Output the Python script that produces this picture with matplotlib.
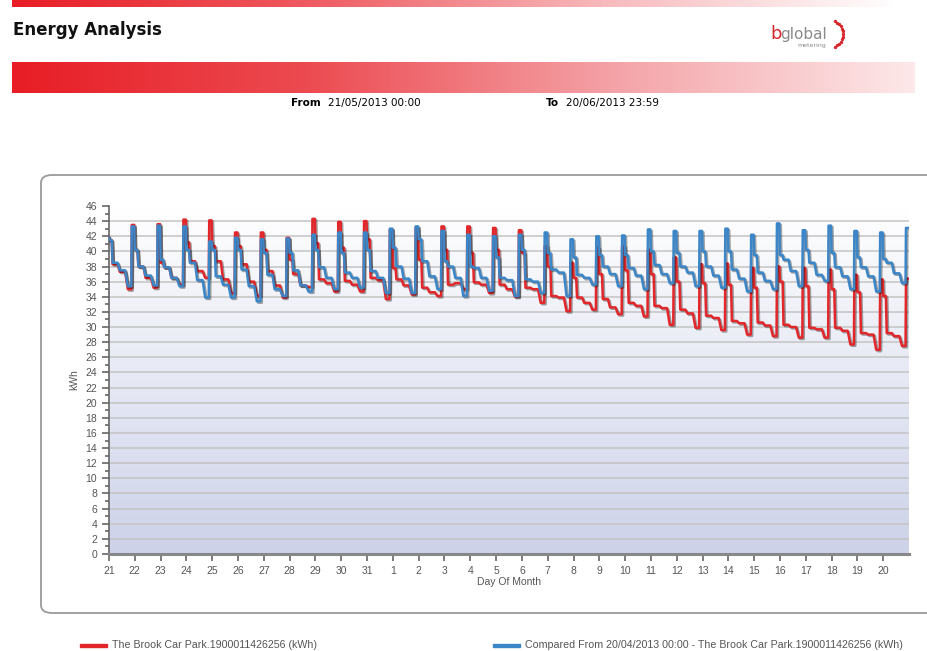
"""Energy analysis chart: half-hourly kWh, current period vs compared period."""

import matplotlib.pyplot as plt
import numpy as np
from matplotlib import patheffects
from matplotlib.colors import LinearSegmentedColormap
from matplotlib.patches import FancyBboxPatch, Rectangle

# ---- data -----------------------------------------------------------------
# one entry per evening cycle, starting with the cycle that began the day
# before 21/05 (index 0) and ending with the rise on 20/06 (last index)
day_labels = ['21', '22', '23', '24', '25', '26', '27', '28', '29', '30',
              '31', '1', '2', '3', '4', '5', '6', '7', '8', '9', '10', '11',
              '12', '13', '14', '15', '16', '17', '18', '19', '20']

red_peak = [42.0, 43.5, 43.6, 44.2, 44.1, 42.5, 42.5, 41.8, 44.3, 43.9,
            44.0, 42.9, 43.1, 43.3, 43.3, 43.1, 42.8, 40.7, 38.5, 40.5,
            40.7, 40.2, 39.2, 38.3, 38.4, 37.8, 38.0, 37.8, 37.6, 36.9,
            36.3, 36.4]
red_shoulder = [41.5, 40.2, 38.5, 41.2, 40.7, 40.7, 40.2, 38.9, 41.1, 40.5,
                41.6, 37.8, 38.9, 40.2, 39.8, 40.2, 39.8, 38.0, 36.5, 37.0,
                37.5, 37.0, 36.0, 35.8, 35.6, 35.2, 36.0, 35.4, 35.0, 34.6,
                34.1]
red_mid_a = [38.3, 38.0, 37.9, 38.7, 38.7, 38.3, 37.4, 37.0, 36.3, 36.1,
             36.5, 36.3, 35.2, 35.6, 35.9, 35.6, 35.2, 34.1, 33.9, 33.7,
             33.2, 32.8, 32.3, 31.5, 30.8, 30.6, 30.3, 29.9, 29.9, 29.2,
             29.2]
red_mid_b = [37.3, 36.5, 36.5, 37.4, 36.3, 36.0, 35.5, 35.5, 35.8, 35.6,
             36.2, 35.5, 34.6, 35.8, 35.6, 35.0, 35.0, 33.9, 33.2, 32.6,
             32.8, 32.5, 31.8, 31.2, 30.5, 30.2, 30.0, 29.7, 29.5, 29.0,
             28.8]
red_low = [35.0, 35.2, 35.6, 36.5, 34.5, 34.1, 33.9, 35.3, 34.7, 34.7,
           33.7, 34.3, 34.1, 35.0, 34.5, 34.0, 33.2, 32.1, 32.3, 31.7,
           31.4, 30.3, 29.9, 29.6, 29.0, 28.8, 28.6, 28.6, 27.7, 27.0,
           27.5]

blue_peak = [42.0, 43.3, 43.4, 43.3, 41.3, 41.8, 41.6, 41.7, 42.2, 42.5,
             42.5, 43.0, 43.3, 42.7, 42.2, 42.0, 42.2, 42.5, 41.6, 42.0,
             42.1, 42.9, 42.7, 42.7, 43.0, 42.2, 43.7, 42.8, 43.4, 42.7,
             42.5, 43.1]
blue_shoulder = [41.5, 40.2, 38.9, 40.2, 40.2, 40.2, 39.8, 39.8, 40.2, 39.8,
                 40.2, 40.5, 41.6, 38.7, 38.0, 39.2, 40.2, 39.8, 39.2, 39.5,
                 39.5, 40.0, 39.8, 40.0, 40.0, 39.5, 39.5, 40.2, 39.8, 39.2,
                 39.0]
blue_mid_a = [38.5, 38.0, 37.9, 38.5, 36.7, 37.6, 36.9, 37.5, 37.9, 37.2,
              37.4, 38.0, 38.7, 38.0, 37.8, 36.5, 36.3, 37.6, 36.9, 38.0,
              37.8, 38.2, 38.0, 38.0, 37.6, 37.2, 38.9, 38.5, 37.9, 37.9,
              38.5]
blue_mid_b = [37.5, 36.8, 36.5, 36.2, 35.6, 35.4, 35.0, 35.5, 36.5, 36.5,
              36.5, 36.4, 36.7, 36.5, 36.5, 36.2, 36.0, 37.2, 36.5, 37.0,
              36.8, 37.0, 37.2, 36.8, 36.4, 36.1, 37.4, 36.9, 36.7, 36.7,
              37.1]
blue_low = [35.4, 35.5, 35.4, 33.9, 33.9, 33.4, 34.1, 34.7, 35.0, 35.2,
            34.5, 34.5, 35.0, 34.1, 34.8, 34.1, 34.5, 34.1, 35.6, 35.4,
            35.0, 35.8, 35.4, 35.2, 34.7, 35.0, 35.4, 36.1, 35.0, 34.7,
            35.8]

# hour of day (relative to the evening of the rise) at which each phase
# of the daily profile starts and ends
peak_hours = (21.2, 23.5)
shoulder_hours = (24.0, 26.5)
mid_a_hours = (27.3, 32.0)
mid_b_hours = (34.0, 39.0)
low_hours = (17.5, 20.8)

RED = '#e2262a'
BLUE = '#3a86c8'
GREY_TEXT = '#555555'


def build_series(peak, shoulder, mid_a, mid_b, low):
    """Join the per-cycle readings into a time (days) / kWh series."""

    times, values = [], []
    for i, p in enumerate(peak):
        day = i - 1
        if i > 0:
            times += [day + h / 24 for h in low_hours]
            values += [low[i - 1]] * 2
        times += [day + h / 24 for h in peak_hours]
        values += [p, p]
        if i < len(shoulder):
            for hours, val in ((shoulder_hours, shoulder[i]),
                               (mid_a_hours, mid_a[i]),
                               (mid_b_hours, mid_b[i])):
                times += [day + h / 24 for h in hours]
                values += [val, val]
    return np.array(times), np.array(values)


fig = plt.figure(figsize=(9.27, 6.51), dpi=100)
W, H = 927, 651


def fx(px):
    return px / W


def fy(py):
    return 1 - py / H


# ---- header ----------------------------------------------------------------
band_cmap = LinearSegmentedColormap.from_list(
    'band', ['#e81d25', '#ee5a60', '#f7b9bc', '#ffffff'])
grad = np.linspace(0, 1, 256).reshape(1, -1)

top_ax = fig.add_axes([fx(12), fy(7), fx(900 - 12), 7 / H])
top_ax.imshow(grad, cmap=band_cmap, aspect='auto')
top_ax.axis('off')

band_ax = fig.add_axes([fx(12), fy(93), fx(915 - 12), 31 / H])
band_cmap2 = LinearSegmentedColormap.from_list(
    'band2', ['#e81d25', '#ec4c52', '#f4a3a7', '#fde8e9'])
band_ax.imshow(grad, cmap=band_cmap2, aspect='auto')
band_ax.axis('off')

fig.text(fx(13), fy(30), 'Energy Analysis', fontsize=12, fontweight='bold',
         color='#111111', va='center', family='DejaVu Sans')

# logo
fig.text(fx(770), fy(34), 'b', fontsize=13, color='#d8262c',
         va='center', family='DejaVu Sans')
fig.text(fx(780), fy(34), 'global', fontsize=11, color='#8a8a8a',
         va='center', family='DejaVu Sans')
fig.text(fx(797), fy(45), 'metering', fontsize=4.5, color='#8a8a8a',
         va='center', family='DejaVu Sans')
arc = np.linspace(-1.3, 1.3, 13)
fig.lines.append(plt.Line2D(fx(832 + 11 * np.cos(arc)),
                            fy(34 - 13 * np.sin(arc)),
                            transform=fig.transFigure, ls='none',
                            marker='o', ms=1.4, color='#d8262c'))

fig.text(fx(291), fy(103), 'From', fontsize=7.5, fontweight='bold',
         va='center', family='DejaVu Sans')
fig.text(fx(328), fy(103), '21/05/2013 00:00', fontsize=7.5,
         va='center', family='DejaVu Sans')
fig.text(fx(546), fy(103), 'To', fontsize=7.5, fontweight='bold',
         va='center', family='DejaVu Sans')
fig.text(fx(566), fy(103), '20/06/2013 23:59', fontsize=7.5,
         va='center', family='DejaVu Sans')

# ---- frame round the chart -------------------------------------------------
frame = FancyBboxPatch((fx(41), fy(613)), fx(960 - 41), (613 - 175) / H,
                       boxstyle='round,pad=0,rounding_size=0.012',
                       transform=fig.transFigure, facecolor='none',
                       edgecolor='#9a9a9a', linewidth=1.3, zorder=-1)
fig.patches.append(frame)

# ---- chart -----------------------------------------------------------------
ax = fig.add_axes([fx(109), fy(554), fx(909 - 109), (554 - 206) / H])

# plot area fades from lavender at the bottom to white at the top
bg_cmap = LinearSegmentedColormap.from_list('bg', ['#ffffff', '#cdd2e9'])
ax.imshow(np.linspace(1, 0, 256).reshape(-1, 1), cmap=bg_cmap,
          aspect='auto', extent=(0, 31, 0, 46), origin='lower', zorder=0)
ax.set_xlim(0, 31)
ax.set_ylim(0, 46)

for yv in range(2, 45, 2):
    ax.axhline(yv, color='#c4c4c4', lw=1.1, zorder=1)

shadow = [patheffects.SimpleLineShadow(offset=(1, -1), alpha=0.35),
          patheffects.Normal()]

t_red, v_red = build_series(red_peak, red_shoulder, red_mid_a, red_mid_b,
                            red_low)
t_blue, v_blue = build_series(blue_peak, blue_shoulder, blue_mid_a,
                              blue_mid_b, blue_low)
ax.plot(t_red, v_red, color=RED, lw=1.8, zorder=3, path_effects=shadow,
        solid_joinstyle='round')
ax.plot(t_blue, v_blue, color=BLUE, lw=1.8, zorder=4, path_effects=shadow,
        solid_joinstyle='round')

for side in ('top', 'right'):
    ax.spines[side].set_visible(False)
ax.spines['left'].set_color('#666666')
ax.spines['left'].set_linewidth(1.2)
ax.spines['bottom'].set_color('#888888')
ax.spines['bottom'].set_linewidth(2.2)

ax.set_yticks(range(0, 47, 2))
ax.set_yticks(range(1, 46, 2), minor=True)
ax.set_xticks(range(len(day_labels)))
ax.set_xticklabels(day_labels)
ax.tick_params(axis='both', which='both', colors='#666666', labelsize=7,
               labelcolor=GREY_TEXT, width=1.2)
ax.tick_params(axis='y', which='major', length=5)
ax.tick_params(axis='y', which='minor', length=3)
ax.tick_params(axis='x', length=5)
for lab in ax.get_xticklabels() + ax.get_yticklabels():
    lab.set_family('Liberation Sans')
    lab.set_fontsize(7.5)

ax.set_ylabel('kWh', fontsize=7.5, color=GREY_TEXT, family='Liberation Sans')
ax.yaxis.set_label_coords(-0.037, 0.5)
ax.set_xlabel('Day Of Month', fontsize=7.5, color=GREY_TEXT,
              family='Liberation Sans', labelpad=1)

# ---- legend ----------------------------------------------------------------
for x0, colour, label in (
        (80, RED, 'The Brook Car Park.1900011426256 (kWh)'),
        (493, BLUE, 'Compared From 20/04/2013 00:00 - '
                    'The Brook Car Park.1900011426256 (kWh)')):
    fig.patches.append(Rectangle((fx(x0), fy(647)), fx(27), 3.5 / H,
                                 transform=fig.transFigure, color=colour))
    fig.text(fx(x0 + 32), fy(645), label, fontsize=7.7, color=GREY_TEXT,
             va='center', family='Liberation Sans')

fig.savefig('out.png', dpi=100)
